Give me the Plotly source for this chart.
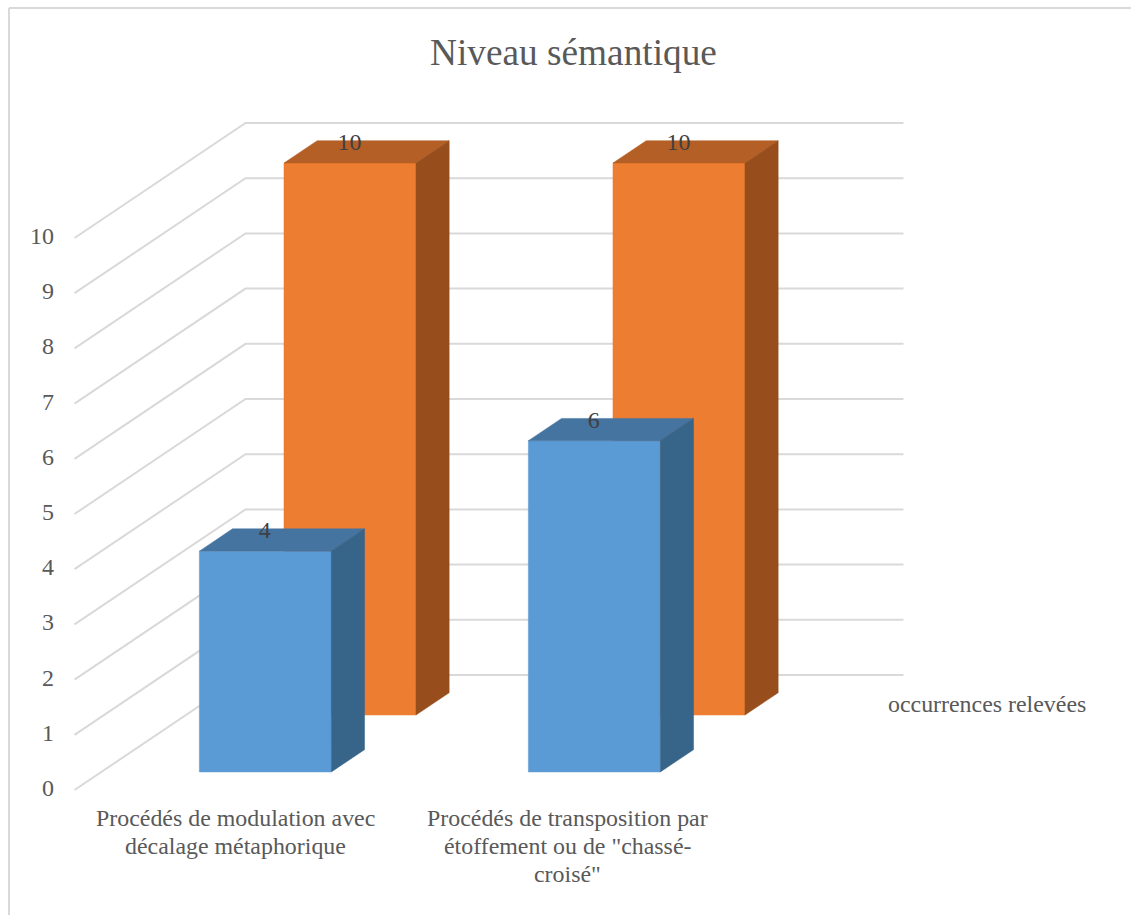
import plotly.graph_objects as go

TITLE = "Niveau sémantique"
CATEGORIES = [["Procédés de modulation avec", "décalage métaphorique"],
              ["Procédés de transposition par", "étoffement ou de \"chassé-", "croisé\""]]
SERIES_NAME = "occurrences relevées"
FRONT_VALUES = [4, 6]
BACK_VALUES = [10, 10]
TICKS = list(range(0, 11))

TEXT = "#595959"
GRID = "#d9d9d9"
FONT = "Liberation Serif"
BLUE = ("#5b9bd5", "#4674a1", "#376489")
ORANGE = ("#ed7d31", "#b45f25", "#974e1c")

# oblique projection of the 3D chart box onto the page
X0, Y0 = 74.5, 790.0
DX, DY = 171.0, -115.0
UNIT = 55.2
CAT_X, CAT_STEP, BAR_W = 172.5, 329.0, 132.0
WALL_W = 658.0


def P(x, d, v):
    return x + DX * d, Y0 + DY * d - UNIT * v


fig = go.Figure()


def poly(points, color):
    xs, ys = zip(*points)
    fig.add_trace(go.Scatter(x=list(xs) + [xs[0]], y=list(ys) + [ys[0]], mode="lines", fill="toself",
                             fillcolor=color, line=dict(color=color, width=0.5),
                             hoverinfo="skip", showlegend=False))


for t in TICKS:
    a, b, c = P(X0, 0, t), P(X0, 1, t), P(X0 + WALL_W, 1, t)
    fig.add_trace(go.Scatter(x=[a[0], b[0], c[0]], y=[a[1], b[1], c[1]], mode="lines",
                             line=dict(color=GRID, width=2), hoverinfo="skip", showlegend=False))


def bar(i, value, d0, d1, colors):
    x0 = CAT_X + CAT_STEP * i
    x1 = x0 + BAR_W
    poly([P(x0, d0, 0), P(x1, d0, 0), P(x1, d0, value), P(x0, d0, value)], colors[0])
    poly([P(x0, d0, value), P(x1, d0, value), P(x1, d1, value), P(x0, d1, value)], colors[1])
    poly([P(x1, d0, 0), P(x1, d1, 0), P(x1, d1, value), P(x1, d0, value)], colors[2])


for i, v in enumerate(BACK_VALUES):
    bar(i, v, 0.652, 0.846, ORANGE)
for i, v in enumerate(FRONT_VALUES):
    bar(i, v, 0.157, 0.351, BLUE)


def labels(values, d):
    pts = [P(CAT_X + CAT_STEP * i + BAR_W / 2, d, v) for i, v in enumerate(values)]
    fig.add_trace(go.Scatter(x=[p[0] - 0.5 for p in pts], y=[p[1] - 19 for p in pts], mode="text",
                             text=[str(v) for v in values], textposition="middle center",
                             textfont=dict(family=FONT, size=24, color="#404040"),
                             hoverinfo="skip", showlegend=False))


labels(BACK_VALUES, 0.652)
labels(FRONT_VALUES, 0.157)

fig.add_trace(go.Scatter(x=[54] * len(TICKS), y=[P(X0, 0, t)[1] for t in TICKS], mode="text",
                         text=[str(t) for t in TICKS], textposition="middle left",
                         textfont=dict(family=FONT, size=24, color=TEXT),
                         hoverinfo="skip", showlegend=False))

annotations = [
    dict(x=573, y=52, text=TITLE, font=dict(family=FONT, size=37.3, color=TEXT)),
    dict(x=987, y=704, text=SERIES_NAME, font=dict(family=FONT, size=23.9, color=TEXT)),
]
for cat, cx in zip(CATEGORIES, [235.5, 567.5]):
    for n, line in enumerate(cat):
        annotations.append(dict(x=cx, y=818 + 28 * n, text=line, font=dict(family=FONT, size=23.9, color=TEXT)))

for a in annotations:
    a.update(xref="x", yref="y", showarrow=False, xanchor="center", yanchor="middle", align="center")

fig.update_layout(
    width=1131, height=915, margin=dict(l=0, r=0, t=0, b=0),
    paper_bgcolor="white", plot_bgcolor="white", showlegend=False,
    xaxis=dict(range=[0, 1131], visible=False, fixedrange=True),
    yaxis=dict(range=[915, 0], visible=False, fixedrange=True),
    annotations=annotations,
    shapes=[dict(type="line", xref="x", yref="y", x0=9, y0=8, x1=9, y1=915, line=dict(color=GRID, width=2)),
            dict(type="line", xref="x", yref="y", x0=9, y0=8, x1=1131, y1=8, line=dict(color=GRID, width=2))],
)
fig.write_html("out.html", config=dict(displayModeBar=False), post_script="document.body.style.margin='0';")
